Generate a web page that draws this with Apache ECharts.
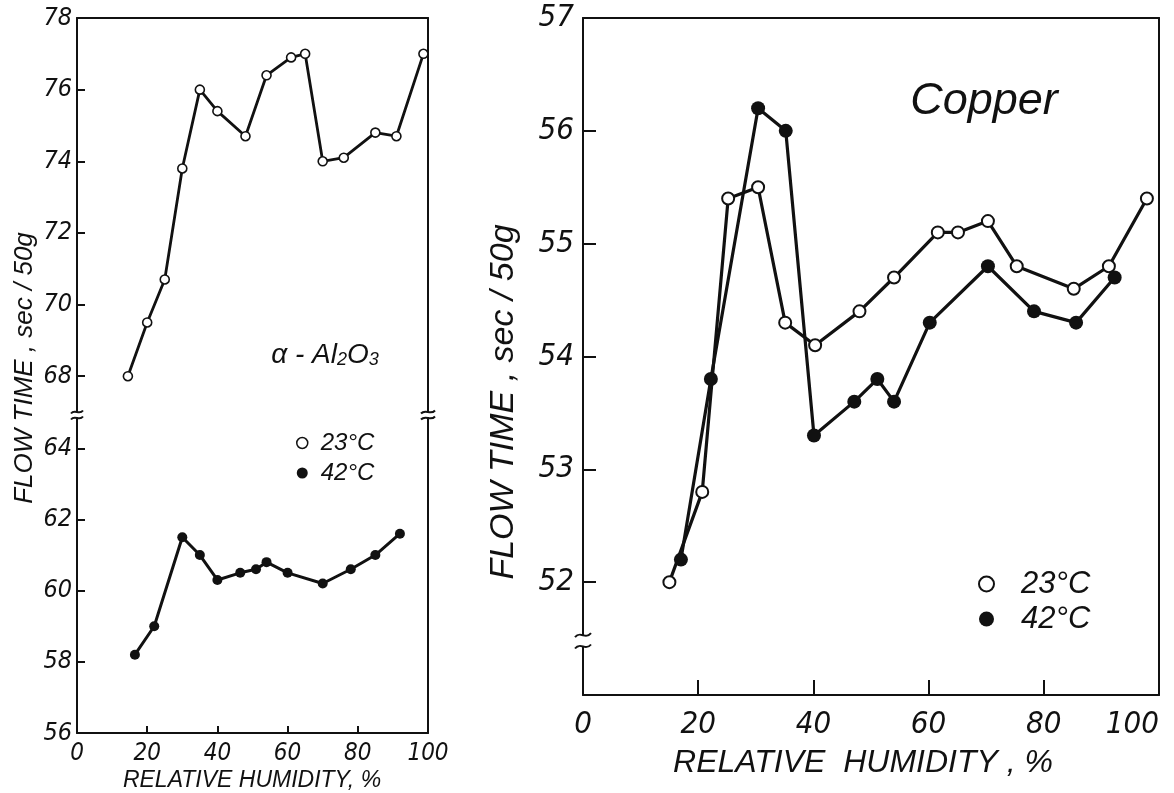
<!DOCTYPE html>
<html><head><meta charset="utf-8">
<script src="https://cdn.jsdelivr.net/npm/echarts@6/dist/echarts.min.js"></script>
<style>html,body{margin:0;padding:0;background:#fff}#c{width:1174px;height:793px}</style>
</head><body><div id="c"></div>
<script>
// ---- data ----
const xTickValues = [0, 20, 40, 60, 80, 100];
const alUpperTicks = [68, 70, 72, 74, 76, 78];
const alLowerTicks = [56, 58, 60, 62, 64];
const cuTicks = [52, 53, 54, 55, 56, 57];
const seriesNames = ['23°C', '42°C'];

const al23_x = [14.5, 20, 25, 30, 35, 40, 48, 54, 61, 65, 70, 76, 85, 91, 98.7];
const al23_y = [68.0, 69.5, 70.7, 73.8, 76.0, 75.4, 74.7, 76.4, 76.9, 77.0, 74.0, 74.1, 74.8, 74.7, 77.0];
const al42_x = [16.5, 22, 30, 35, 40, 46.5, 51, 54, 60, 70, 78, 85, 92];
const al42_y = [58.2, 59.0, 61.5, 61.0, 60.3, 60.5, 60.6, 60.8, 60.5, 60.2, 60.6, 61.0, 61.6];

const cu23_x = [15, 20.7, 25.2, 30.4, 35.1, 40.3, 48, 54, 61.6, 65.1, 70.3, 75.3, 85.2, 91.3, 97.9];
const cu23_y = [52.0, 52.8, 55.4, 55.5, 54.3, 54.1, 54.4, 54.7, 55.1, 55.1, 55.2, 54.8, 54.6, 54.8, 55.4];
const cu42_x = [17, 22.2, 30.4, 35.2, 40.1, 47.1, 51.1, 54, 60.2, 70.3, 78.3, 85.6, 92.3];
const cu42_y = [52.2, 53.8, 56.2, 56.0, 53.3, 53.6, 53.8, 53.6, 54.3, 54.8, 54.4, 54.3, 54.7];

const zip = (xs, ys) => xs.map((x, i) => [x, ys[i]]);

// ---- style ----
const INK = '#111';
const FONT = '"Liberation Sans Narrow", "DejaVu Sans Condensed", "DejaVu Sans", sans-serif';
const TFONT = '"Liberation Sans", Arial, "DejaVu Sans", sans-serif';

const chart = echarts.init(document.getElementById('c'), null, {renderer: 'canvas'});

function lineOnlyY(grid, min, max, pos) {
  return {type: 'value', gridIndex: grid, position: pos, min: min, max: max,
    axisLine: {show: true, onZero: false, lineStyle: {color: INK, width: 2}},
    axisTick: {show: false}, axisLabel: {show: false}, splitLine: {show: false}};
}
function lineOnlyX(grid, pos) {
  return {type: 'value', gridIndex: grid, position: pos, min: 0, max: 100,
    axisLine: {show: true, onZero: false, lineStyle: {color: INK, width: 2}},
    axisTick: {show: false}, axisLabel: {show: false}, splitLine: {show: false}};
}
function labelY(grid, min, max, ticks, fs, tickLen, margin) {
  return {type: 'value', gridIndex: grid, position: 'left', min: min, max: max,
    axisLine: {show: true, onZero: false, lineStyle: {color: INK, width: 2}},
    axisTick: {show: true, inside: true, length: tickLen, customValues: ticks, lineStyle: {color: INK, width: 2}},
    axisLabel: {show: true, customValues: ticks, margin: margin, color: INK,
      fontFamily: FONT, fontStyle: 'italic', fontSize: fs},
    splitLine: {show: false}};
}
function labelX(grid, fs, tickLen, margin, alignMax) {
  return {type: 'value', gridIndex: grid, position: 'bottom', min: 0, max: 100, interval: 20,
    axisLine: {show: true, onZero: false, lineStyle: {color: INK, width: 2}},
    axisTick: {show: true, inside: true, length: tickLen, customValues: [20, 40, 60, 80], lineStyle: {color: INK, width: 2}},
    axisLabel: {show: true, customValues: xTickValues, margin: margin, color: INK,
      fontFamily: FONT, fontStyle: 'italic', fontSize: fs, alignMaxLabel: alignMax || null},
    splitLine: {show: false}};
}

const option = {
  animation: false,
  backgroundColor: '#fff',
  grid: [
    {left: 77, right: 746, top: 18, height: 394},
    {left: 77, right: 746, top: 418, bottom: 60},
    {left: 583, right: 15, top: 18, bottom: 98}
  ],
  xAxis: [
    lineOnlyX(0, 'top'),
    labelX(1, 24, 7, 9),
    labelX(2, 31, 15, 14, 'right'),
    lineOnlyX(2, 'top')
  ],
  yAxis: [
    labelY(0, 67, 78, alUpperTicks, 25, 8, 5),
    lineOnlyY(0, 67, 78, 'right'),
    labelY(1, 56, 64.85, alLowerTicks, 25, 8, 5),
    lineOnlyY(1, 56, 64.85, 'right'),
    labelY(2, 51, 57, cuTicks, 31, 13, 9),
    lineOnlyY(2, 51, 57, 'right')
  ],
  legend: [
    {data: [
        {name: seriesNames[0], icon: 'circle', itemStyle: {color: '#fff', borderColor: INK, borderWidth: 1.5}},
        {name: seriesNames[1], icon: 'circle', itemStyle: {color: INK, borderColor: INK, borderWidth: 0}}],
     orient: 'vertical', left: 296, top: 431, padding: 0, itemWidth: 11, itemHeight: 11, itemGap: 6,
     selectedMode: false,
     textStyle: {color: INK, fontFamily: TFONT, fontStyle: 'italic', fontSize: 24, lineHeight: 22, padding: [0, 0, 0, 8]}},
    {data: [
        {name: seriesNames[0], icon: 'circle', itemStyle: {color: '#fff', borderColor: INK, borderWidth: 2}},
        {name: seriesNames[1], icon: 'circle', itemStyle: {color: INK, borderColor: INK, borderWidth: 0}}],
     orient: 'vertical', left: 978, top: 568, padding: 0, itemWidth: 15, itemHeight: 15, itemGap: 3,
     selectedMode: false,
     textStyle: {color: INK, fontFamily: TFONT, fontStyle: 'italic', fontSize: 31, lineHeight: 32, padding: [0, 0, 0, 22]}}
  ],
  series: [
    {name: seriesNames[0], type: 'line', xAxisIndex: 0, yAxisIndex: 0, data: zip(al23_x, al23_y),
     symbol: 'circle', symbolSize: 9, lineStyle: {color: INK, width: 2.8},
     itemStyle: {color: '#fff', borderColor: INK, borderWidth: 1.6}, silent: true},
    {name: seriesNames[1], type: 'line', xAxisIndex: 1, yAxisIndex: 2, data: zip(al42_x, al42_y),
     symbol: 'circle', symbolSize: 10, lineStyle: {color: INK, width: 3},
     itemStyle: {color: INK, borderColor: INK, borderWidth: 0}, silent: true},
    {name: seriesNames[0], type: 'line', xAxisIndex: 2, yAxisIndex: 4, data: zip(cu23_x, cu23_y),
     symbol: 'circle', symbolSize: 12, lineStyle: {color: INK, width: 3.2},
     itemStyle: {color: '#fff', borderColor: INK, borderWidth: 2}, silent: true},
    {name: seriesNames[1], type: 'line', xAxisIndex: 2, yAxisIndex: 4, data: zip(cu42_x, cu42_y),
     symbol: 'circle', symbolSize: 14, lineStyle: {color: INK, width: 3.2},
     itemStyle: {color: INK, borderColor: INK, borderWidth: 0}, silent: true}
  ]
};
chart.setOption(option);

// ---- decorations: titles, panel labels, axis-break marks ----
function tilde(x, y, w, h) {
  return {type: 'bezierCurve', silent: true, z: 20,
    shape: {x1: x - w, y1: y + h, cpx1: x - w / 3, cpy1: y - 2.5 * h, cpx2: x + w / 3, cpy2: y + 2.5 * h, x2: x + w, y2: y - h},
    style: {stroke: INK, lineWidth: 2, fill: null}};
}
function txt(text, x, y, size, rot, family) {
  return {type: 'text', x: x, y: y, rotation: rot || 0, silent: true, z: 20,
    style: {text: text, fill: INK, fontFamily: family || TFONT, fontStyle: 'italic', fontSize: size,
      align: 'center', verticalAlign: 'middle'}};
}

const gLeftX = chart.convertToPixel({xAxisIndex: 1}, 0);
const gRightX = chart.convertToPixel({xAxisIndex: 1}, 100);
const yUpperBottom = chart.convertToPixel({yAxisIndex: 0}, 67);
const yLowerTop = chart.convertToPixel({yAxisIndex: 2}, 64.85);
const cuLeft = chart.convertToPixel({xAxisIndex: 2}, 0);
const cuBreakTop = chart.convertToPixel({yAxisIndex: 4}, 51.53);
const cuBreakBot = chart.convertToPixel({yAxisIndex: 4}, 51.43);

const graphics = [
  tilde(gLeftX, yUpperBottom, 6, 1.5), tilde(gLeftX, yLowerTop, 6, 1.5),
  tilde(gRightX, yUpperBottom, 7, 1.5), tilde(gRightX, yLowerTop, 7, 1.5),
  {type: 'rect', silent: true, z: 19, shape: {x: cuLeft - 3, y: cuBreakTop, width: 6, height: cuBreakBot - cuBreakTop},
   style: {fill: '#fff'}},
  tilde(cuLeft, cuBreakTop, 8, 2), tilde(cuLeft, cuBreakBot, 8, 2),
  txt('FLOW TIME , sec / 50g', 25, 368, 26, Math.PI / 2),
  txt('FLOW TIME , sec / 50g', 504, 402, 34, Math.PI / 2),
  txt('RELATIVE HUMIDITY, %', 252, 781, 23),
  txt('RELATIVE  HUMIDITY , %', 863, 763, 32),
  txt('Copper', 984, 101, 45),
  {type: 'text', x: 325, y: 355, silent: true, z: 20,
   style: {text: '{a|α - Al}{s|2}{a|O}{s|3}', align: 'center', verticalAlign: 'middle', fill: INK,
     rich: {a: {fontFamily: TFONT, fontStyle: 'italic', fontSize: 28, fill: INK},
            s: {fontFamily: TFONT, fontStyle: 'italic', fontSize: 18, fill: INK, padding: [10, 0, 0, 0], verticalAlign: 'bottom'}}}}
];
chart.setOption({graphic: graphics});
</script>
</body></html>
